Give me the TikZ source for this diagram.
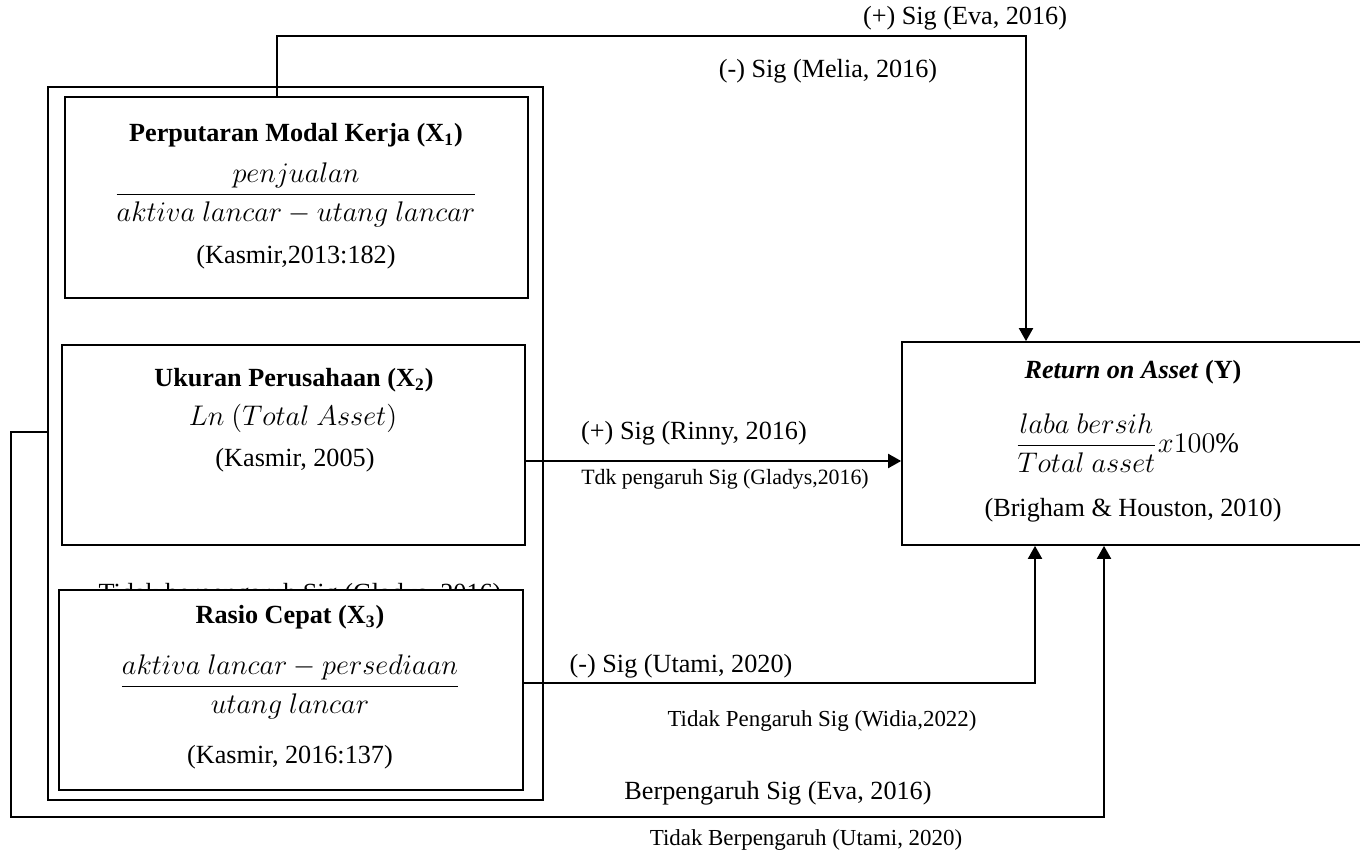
\RequirePackage{fix-cm}
\documentclass[tikz,border=0pt]{standalone}
\usepackage{fontspec}
\setmainfont{Liberation Serif}
\usetikzlibrary{arrows.meta,calc,fit}
\begin{document}
\begin{tikzpicture}[x=0.0161cm,y=-0.0161cm,line width=0.8pt,
  box/.style={draw,fill=white,inner sep=0pt},
  arr/.style={-{Triangle[length=6pt,width=6.5pt]}},
  lbl/.style={font=\fontsize{12}{14}\selectfont,inner sep=0pt},
  formula/.style={font=\fontsize{13}{15}\selectfont,inner sep=0pt},
  slbl/.style={font=\fontsize{10}{12}\selectfont,inner sep=0pt},
  mlbl/.style={font=\fontsize{10.5}{12}\selectfont,inner sep=0pt},
  head/.style={font=\fontsize{12}{14}\selectfont\bfseries,inner sep=0pt}]
\useasboundingbox (0,0) rectangle (1360,853);
% outer frame and the label it hides
\node[box,fit={(48,87) (543,800)}] (frame) {};
\node[lbl,anchor=base] (hid) at (300,601) {Tidak berpengaruh Sig (Gladys, 2016)};
% variable boxes
\node[box,fit={(65,97) (528,298)}] (x1) {};
\node[box,fit={(62,345) (525,545)}] (x2) {};
\node[box,fit={(59,590) (523,790)}] (x3) {};
\node[box,fit={(902,342) (1364,545)}] (roa) {};
% X1
\node[head] (x1t) at (296,135) {Perputaran Modal Kerja (X\textsubscript{1})};
\node[formula] (x1f) at (296,195) {$\displaystyle\frac{penjualan}{aktiva\ lancar-utang\ lancar}$};
\node[lbl] (x1s) at (296,257) {(Kasmir,2013:182)};
% X2
\node[head] (x2t) at (294,380) {Ukuran Perusahaan (X\textsubscript{2})};
\node[formula] (x2f) at (293,418) {$Ln\ (Total\ Asset)$};
\node[lbl] (x2s) at (295,460) {(Kasmir, 2005)};
% X3
\node[head] (x3t) at (290,617) {Rasio Cepat (X\textsubscript{3})};
\node[formula] (x3f) at (290,687) {$\displaystyle\frac{aktiva\ lancar-persediaan}{utang\ lancar}$};
\node[lbl] (x3s) at (290,757) {(Kasmir, 2016:137)};
% Y
\node[lbl] (roat) at (1133,372) {\textbf{\textit{Return on Asset}} \textbf{(Y)}};
\node[formula] (roaf) at (1127,443) {$\displaystyle\frac{laba\ bersih}{Total\ asset}x100\%$};
\node[lbl] (roas) at (1133,510) {(Brigham \& Houston, 2010)};
% connectors
\draw[arr] ($(x1.north)+(-19.5,0)$) -- ++(0,-60) -| ($(roa.north)+(-107,0)$);
\draw[arr] ($(x2.east)+(0,16)$) -- ($(roa.west)+(0,17.5)$);
\draw[arr] ($(x3.east)+(0,-7)$) -| ($(roa.south)+(-98,0)$);
\draw[arr] ($(frame.north west)+(0,346)$) -| ++(-36,385) -| ($(roa.south)+(-29,0)$);
% labels
\node[lbl] (l1) at (965,18) {(+) Sig (Eva, 2016)};
\node[lbl] (l2) at (828,71) {(-) Sig (Melia, 2016)};
\node[lbl] (l3) at (694,433) {(+) Sig (Rinny, 2016)};
\node[slbl] (l4) at (725,479) {Tdk pengaruh Sig (Gladys,2016)};
\node[lbl] (l5) at (681,666) {(-) Sig (Utami, 2020)};
\node[mlbl] (l6) at (822,721) {Tidak Pengaruh Sig (Widia,2022)};
\node[lbl] (l7) at (778,793) {Berpengaruh Sig (Eva, 2016)};
\node[mlbl] (l8) at (806,840) {Tidak Berpengaruh (Utami, 2020)};
\end{tikzpicture}
\end{document}
